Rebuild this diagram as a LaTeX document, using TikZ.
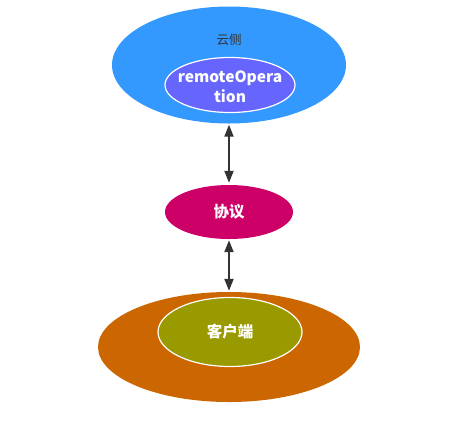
\documentclass[tikz,border=0pt]{standalone}
\usepackage{fontspec}
\setmainfont{Noto Sans CJK SC}
\usetikzlibrary{shapes.geometric,arrows.meta}
\definecolor{cloudblue}{HTML}{3399FF}
\definecolor{opblue}{HTML}{6666FF}
\definecolor{protored}{HTML}{CC0066}
\definecolor{clientorange}{HTML}{CC6600}
\definecolor{clientgreen}{HTML}{999900}
\definecolor{arrowgray}{HTML}{333333}
\tikzset{
  blob/.style={ellipse,draw=none,inner sep=0pt},
  inblob/.style={ellipse,draw=white,line width=1.2pt,inner sep=0pt},
  boldtext/.style={text=white,font=\bfseries\fontsize{15.5}{20}\selectfont,align=center},
  link/.style={arrowgray,line width=2pt,{Triangle[length=12pt,width=9pt]}-{Triangle[length=12pt,width=9pt]}}
}
\begin{document}
\begin{tikzpicture}[x=1pt,y=-1pt]
		\useasboundingbox (0,0) rectangle (455,424);
		% cloud side
		\node[blob,fill=cloudblue,minimum width=234pt,minimum height=117pt] (cloud) at (229,65) {};
		\node[text=arrowgray,font=\fontsize{12.5}{15}\selectfont] (cloudlabel) at (229,40) {云侧};
		\node[inblob,fill=opblue,minimum width=130pt,minimum height=55pt] (remote) at (230,85) {};
		\node[boldtext] (remotetext) at ([yshift=-2pt]remote.center) {remoteOpera\\tion};
		% protocol
		\node[blob,fill=protored,minimum width=128pt,minimum height=54pt,boldtext] (proto) at (229,212) {协议};
		% client side
		\node[blob,fill=clientorange,minimum width=262pt,minimum height=110pt] (client) at (229,347) {};
		\node[inblob,fill=clientgreen,minimum width=144pt,minimum height=69pt,boldtext] (app) at (230,332) {客户端};
		% links
		\draw[link] ([yshift=-1pt]cloud.south) -- ([yshift=2pt]proto.north);
		\draw[link] ([yshift=-1pt]proto.south) -- ([yshift=1pt]client.north);
		\end{tikzpicture}
\end{document}
